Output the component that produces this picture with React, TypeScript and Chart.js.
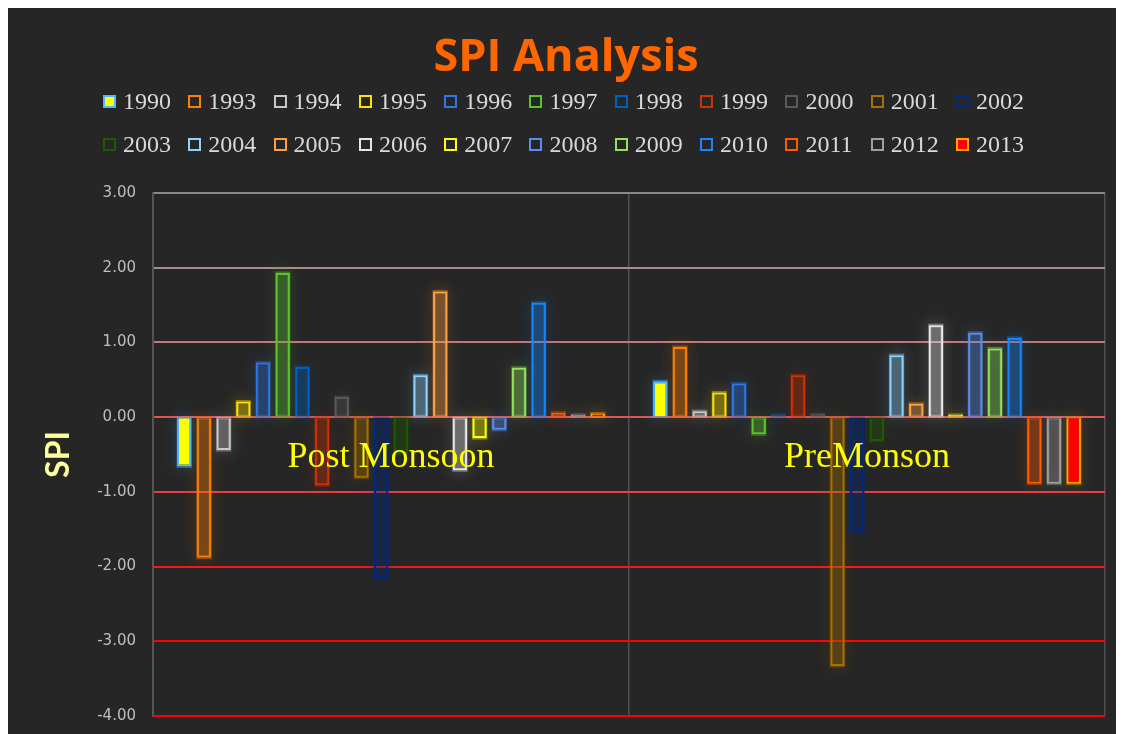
import React, { useEffect, useRef } from "react";
import { Chart, registerables } from "chart.js";

Chart.register(...registerables);

const categories = ["Post Monsoon", "PreMonson"];
const years = [
  "1990", "1993", "1994", "1995", "1996", "1997", "1998", "1999", "2000", "2001", "2002",
  "2003", "2004", "2005", "2006", "2007", "2008", "2009", "2010", "2011", "2012", "2013",
];
const postMonsoon = [
  -0.66, -1.88, -0.44, 0.21, 0.73, 1.93, 0.67, -0.91, 0.27, -0.81, -2.15,
  -0.49, 0.56, 1.68, -0.71, -0.28, -0.17, 0.66, 1.53, 0.06, 0.03, 0.05,
];
const preMonsoon = [
  0.48, 0.94, 0.08, 0.33, 0.45, -0.23, 0.03, 0.56, 0.04, -3.33, -1.54,
  -0.32, 0.83, 0.18, 1.23, 0.03, 1.13, 0.92, 1.06, -0.89, -0.89, -0.89,
];
const borderColors = [
  "#4DB8FF", "#FF8000", "#C8C8C8", "#FFE000", "#2E75E8", "#5CC22E", "#0060C0", "#CC3300", "#5A5A5A", "#A87000", "#002A80",
  "#1E5A00", "#8CD3FF", "#FFA040", "#E6E6E6", "#FFFF00", "#5B8DEF", "#92E35A", "#1487FF", "#FF5A00", "#A0A0A0", "#FFA500",
];
const solidFills: Record<string, string> = { "1990": "#FFFF00", "2013": "#FF0000" };
const yTicks = [3, 2, 1, 0, -1, -2, -3, -4];
const gridColors = ["#8A8A8A", "#A88C8C", "#C07878", "#D85858", "#E84040", "#F41818", "#FF0000", "#FF0000"];

function hexToRgba(hex: string, a: number) {
  const n = parseInt(hex.slice(1), 16);
  return `rgba(${(n >> 16) & 255},${(n >> 8) & 255},${n & 255},${a})`;
}

const fillColors = years.map((y, i) => solidFills[y] ?? hexToRgba(borderColors[i], 0.3));

// soft glow behind every bar, in the bar's border colour
const glowPlugin = {
  id: "glow",
  beforeDatasetsDraw(chart: any) {
    const ctx = chart.ctx;
    chart.data.datasets.forEach((ds: any, di: number) => {
      const meta = chart.getDatasetMeta(di);
      meta.data.forEach((el: any) => {
        const { x, y, base, width } = el.getProps(["x", "y", "base", "width"], true);
        const top = Math.min(y, base);
        const h = Math.abs(base - y);
        ctx.save();
        ctx.shadowColor = hexToRgba(ds.borderColor, 1);
        ctx.shadowBlur = 14;
        ctx.strokeStyle = hexToRgba(ds.borderColor, 0.4);
        ctx.lineWidth = 3;
        ctx.strokeRect(x - width / 2 + 1, top, width - 2, h);
        ctx.restore();
      });
    });
  },
};

const catLabelPlugin = {
  id: "catLabels",
  afterDatasetsDraw(chart: any) {
    const { ctx, scales } = chart;
    const y0 = scales.y.getPixelForValue(0);
    ctx.save();
    ctx.font = "36px 'Liberation Serif'";
    ctx.fillStyle = "#FFFF00";
    ctx.textAlign = "center";
    ctx.textBaseline = "middle";
    categories.forEach((c, i) => {
      ctx.fillText(c, scales.x.getPixelForValue(i), y0 + 40);
    });
    ctx.restore();
  },
};

export default function App() {
  const ref = useRef<HTMLCanvasElement>(null);
  useEffect(() => {
    const datasets = years.map((y, i) => ({
      label: y,
      data: [postMonsoon[i], preMonsoon[i]],
      backgroundColor: fillColors[i],
      borderColor: borderColors[i],
      borderWidth: 2,
      categoryPercentage: 0.91,
      barPercentage: 0.73,
    }));
    const chart = new Chart(ref.current as HTMLCanvasElement, {
      type: "bar",
      data: { labels: categories, datasets },
      plugins: [glowPlugin, catLabelPlugin],
      options: {
        responsive: false,
        animation: false,
        layout: { padding: { top: 185, right: 19, bottom: 12, left: 0 } },
        plugins: { legend: { display: false }, title: { display: false }, tooltip: { enabled: false } },
        scales: {
          x: {
            afterFit: (s: any) => { s.height = 0; },
            ticks: { display: false },
            grid: { color: "#505050", lineWidth: 1.5, offset: true, drawTicks: false },
            border: { display: false },
          },
          y: {
            min: -4,
            max: 3,
            afterFit: (s: any) => { s.width = 145; },
            afterBuildTicks: (s: any) => { s.ticks = yTicks.slice().reverse().map((v) => ({ value: v })); },
            ticks: {
              padding: 17,
              color: "#BFBFBF",
              font: { family: "'DejaVu Sans'", size: 15 },
              callback: (v: any) => Number(v).toFixed(2),
            },
            grid: {
              drawTicks: false,
              lineWidth: 2,
              color: (c: any) => {
                const idx = yTicks.indexOf(c.tick?.value);
                return idx >= 0 ? gridColors[idx] : "#555";
              },
            },
            border: { display: true, color: "#555555", width: 2 },
            title: {
              display: true,
              text: "SPI",
              color: "#FFFF99",
              font: { family: "Lato", weight: "bold", size: 32 },
              padding: { top: 31, bottom: 0 },
            },
          },
        },
      } as any,
    });
    return () => chart.destroy();
  }, []);

  const rows = [years.slice(0, 11), years.slice(11)];
  return (
    <div style={{ position: "relative", width: 1116, height: 726, background: "#262626", overflow: "hidden" }}>
      <canvas ref={ref} width={1116} height={734} style={{ position: "absolute", left: 0, top: 0 }} />
      <div
        style={{
          position: "absolute", left: 0, width: 1116, top: 23, textAlign: "center",
          fontFamily: "'Open Sans'", fontWeight: 700, fontSize: 45, lineHeight: "45px", color: "#FF6600",
        }}
      >
        SPI Analysis
      </div>
      {rows.map((row, r) => (
        <div key={r} style={{ position: "absolute", left: 95, top: r === 0 ? 81 : 124, display: "flex" }}>
          {row.map((y) => {
            const i = years.indexOf(y);
            return (
              <div key={y} style={{ width: 85.3, height: 24, display: "flex", alignItems: "center" }}>
                <span
                  style={{
                    width: 13, height: 13, boxSizing: "border-box", border: `2px solid ${borderColors[i]}`,
                    background: solidFills[y] ?? "transparent", display: "inline-block", marginRight: 7,
                  }}
                />
                <span style={{ fontFamily: "'Liberation Serif'", fontSize: 24, lineHeight: "24px", color: "#D9D9D9" }}>{y}</span>
              </div>
            );
          })}
        </div>
      ))}
    </div>
  );
}
